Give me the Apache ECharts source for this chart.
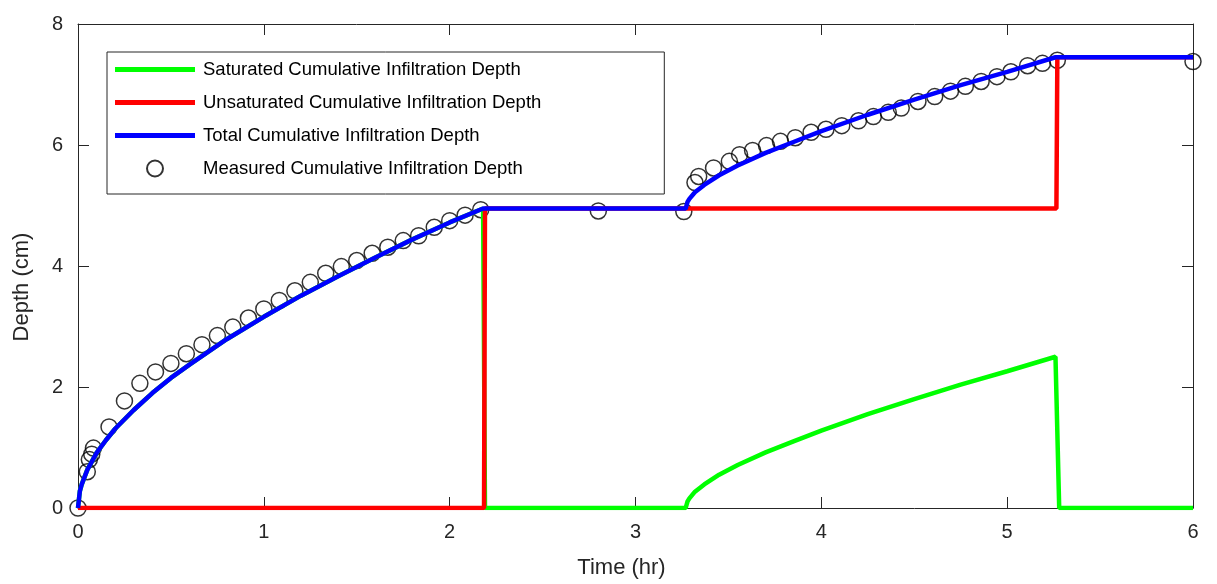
<!DOCTYPE html>
<html>
<head>
<meta charset="utf-8">
<script src="https://cdn.jsdelivr.net/npm/echarts@6/dist/echarts.min.js"></script>
<style>
  html, body { margin: 0; padding: 0; background: #fff; }
  #chart { width: 1217px; height: 584px; }
</style>
</head>
<body>
<div id="chart"></div>
<script>
// series names
var seriesNames = [
    "Saturated Cumulative Infiltration Depth",
    "Unsaturated Cumulative Infiltration Depth",
    "Total Cumulative Infiltration Depth",
    "Measured Cumulative Infiltration Depth"
];

// saturated (green) depth, cm vs time, hr
var satTime  = [0, 0.01, 0.02, 0.05, 0.1, 0.15, 0.2, 0.3, 0.4, 0.5, 0.6, 0.8, 1.0, 1.2, 1.4, 1.6, 1.8, 2.0, 2.18, 2.19,
                3.27, 3.28, 3.29, 3.32, 3.37, 3.45, 3.55, 3.7, 3.85, 4.0, 4.25, 4.5, 4.75, 5.0, 5.26, 5.28, 6.0];
var satDepth = [0, 0.28, 0.39, 0.63, 0.91, 1.12, 1.31, 1.62, 1.90, 2.15, 2.37, 2.79, 3.16, 3.51, 3.83, 4.14, 4.44, 4.72, 4.95, 0,
                0, 0.11, 0.16, 0.27, 0.39, 0.55, 0.71, 0.92, 1.10, 1.28, 1.55, 1.80, 2.04, 2.26, 2.50, 0, 0];

// unsaturated (red) depth
var unsatTime  = [0, 2.185, 2.19, 5.265, 5.27, 6.0];
var unsatDepth = [0, 0, 4.95, 4.95, 7.45, 7.45];

// total (blue) depth
var totalTime  = [0, 0.01, 0.02, 0.05, 0.1, 0.15, 0.2, 0.3, 0.4, 0.5, 0.6, 0.8, 1.0, 1.2, 1.4, 1.6, 1.8, 2.0, 2.18,
                  3.27, 3.28, 3.29, 3.32, 3.37, 3.45, 3.55, 3.7, 3.85, 4.0, 4.25, 4.5, 4.75, 5.0, 5.26, 6.0];
var totalDepth = [0, 0.28, 0.39, 0.63, 0.91, 1.12, 1.31, 1.62, 1.90, 2.15, 2.37, 2.79, 3.16, 3.51, 3.83, 4.14, 4.44, 4.72, 4.95,
                  4.95, 5.06, 5.11, 5.22, 5.34, 5.50, 5.66, 5.87, 6.05, 6.23, 6.50, 6.75, 6.99, 7.21, 7.45, 7.45];

// measured points
var measTime  = [0, 0.05, 0.061, 0.074, 0.083, 0.167, 0.25, 0.333, 0.417, 0.5, 0.583, 0.667, 0.75, 0.833, 0.917,
                 1.0, 1.083, 1.167, 1.25, 1.333, 1.417, 1.5, 1.583, 1.667, 1.75, 1.833, 1.917, 2.0, 2.083, 2.167,
                 2.8, 3.26, 3.32, 3.34, 3.42, 3.505, 3.56, 3.63, 3.705, 3.78, 3.86, 3.945, 4.025, 4.11, 4.2, 4.28,
                 4.36, 4.43, 4.52, 4.61, 4.695, 4.775, 4.86, 4.945, 5.02, 5.11, 5.19, 5.27, 6.0];
var measDepth = [0, 0.60, 0.80, 0.89, 0.99, 1.34, 1.77, 2.06, 2.25, 2.39, 2.55, 2.70, 2.85, 2.99, 3.14,
                 3.29, 3.43, 3.59, 3.73, 3.88, 3.99, 4.09, 4.21, 4.31, 4.42, 4.50, 4.64, 4.75, 4.84, 4.93,
                 4.91, 4.90, 5.38, 5.48, 5.62, 5.73, 5.84, 5.91, 5.99, 6.06, 6.12, 6.21, 6.26, 6.32, 6.40, 6.47,
                 6.54, 6.61, 6.72, 6.80, 6.89, 6.97, 7.05, 7.13, 7.21, 7.31, 7.35, 7.40, 7.38];

var xTicks = [0, 1, 2, 3, 4, 5, 6];
var yTicks = [0, 2, 4, 6, 8];

function pairs(xs, ys) {
    var out = [];
    for (var i = 0; i < xs.length; i++) out.push([xs[i], ys[i]]);
    return out;
}

var axisColor = '#262626';
var fontFam = '"Liberation Sans", Arial, sans-serif';
// thick line legend icon (80x16 box, 5px bar in the middle)
var lineIcon = 'path://M0,0 M80,16 M0,5.5 L80,5.5 L80,10.5 L0,10.5 Z';

var chart = echarts.init(document.getElementById('chart'));

function boxAxis(pos, min, max, step, isMain, name) {
    var ax = {
        type: 'value',
        position: pos,
        min: min,
        max: max,
        interval: step,
        axisLine: { show: true, onZero: false, lineStyle: { color: axisColor, width: 1 } },
        axisTick: { show: true, inside: true, length: 11, lineStyle: { color: axisColor } },
        axisLabel: { show: isMain, color: axisColor, fontSize: 20, fontFamily: fontFam, margin: 14 },
        splitLine: { show: false }
    };
    if (isMain) {
        ax.name = name;
        ax.nameLocation = 'middle';
        ax.nameTextStyle = { color: axisColor, fontSize: 22, fontFamily: fontFam };
    }
    return ax;
}

var xMain = boxAxis('bottom', xTicks[0], xTicks[xTicks.length - 1], 1, true, 'Time (hr)');
xMain.nameGap = 49;
xMain.nameTextStyle.padding = [0, 28, 0, 0];
var yMain = boxAxis('left', yTicks[0], yTicks[yTicks.length - 1], 2, true, 'Depth (cm)');
yMain.nameGap = 45;
yMain.nameTextStyle.padding = [0, 42, 0, 0];
yMain.axisLabel.margin = 15;

chart.setOption({
    animation: false,
    backgroundColor: '#fff',
    grid: { left: 78, right: 24, top: 24, bottom: 74 },
    legend: {
        orient: 'vertical',
        left: 107,
        top: 52,
        itemWidth: 80,
        itemHeight: 16,
        itemGap: 14,
        padding: [8, 123, 16, 8],
        borderColor: axisColor,
        borderWidth: 1,
        backgroundColor: '#fff',
        textStyle: { color: '#000', fontSize: 18.5, fontFamily: fontFam, padding: [0, 0, 0, 3] },
        data: [
            { name: seriesNames[0], icon: lineIcon },
            { name: seriesNames[1], icon: lineIcon },
            { name: seriesNames[2], icon: lineIcon },
            { name: seriesNames[3], icon: 'circle' }
        ]
    },
    xAxis: [xMain, boxAxis('top', 0, 6, 1, false)],
    yAxis: [yMain, boxAxis('right', 0, 8, 2, false)],
    series: [
        {
            name: seriesNames[0], type: 'line', showSymbol: false, symbol: 'none',
            lineStyle: { color: '#00ff00', width: 4.5 }, itemStyle: { color: '#00ff00' },
            data: pairs(satTime, satDepth)
        },
        {
            name: seriesNames[1], type: 'line', showSymbol: false, symbol: 'none',
            lineStyle: { color: '#ff0000', width: 4.5 }, itemStyle: { color: '#ff0000' },
            data: pairs(unsatTime, unsatDepth)
        },
        {
            name: seriesNames[2], type: 'line', showSymbol: false, symbol: 'none',
            lineStyle: { color: '#0000ff', width: 4.5 }, itemStyle: { color: '#0000ff' },
            data: pairs(totalTime, totalDepth)
        },
        {
            name: seriesNames[3], type: 'scatter', symbol: 'circle', symbolSize: 16,
            itemStyle: { color: 'rgba(0,0,0,0)', borderColor: '#000', borderWidth: 1.5 },
            data: pairs(measTime, measDepth)
        }
    ]
});
</script>
</body>
</html>
